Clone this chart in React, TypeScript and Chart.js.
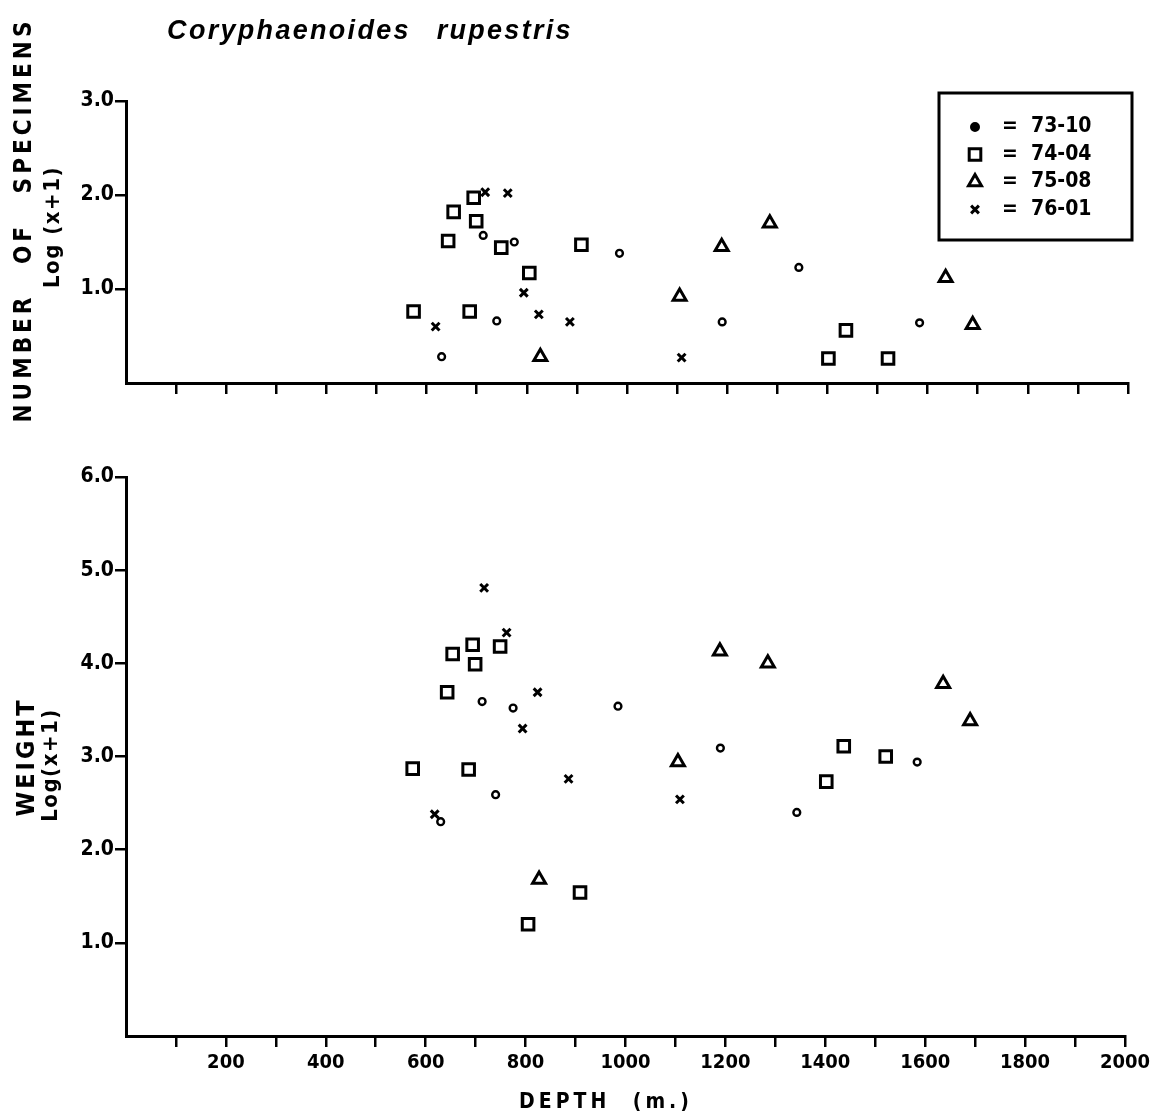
import React, { useEffect, useRef } from 'react';
import { Chart, registerables } from 'chart.js';
import { drawPoint } from 'chart.js/helpers';

Chart.register(...registerables);

// ---- data ----
const seriesNames = ['73-10', '74-04', '75-08', '76-01'];

const depth7310 = [630, 713, 740, 775, 985, 1190, 1343, 1584];
const count7310 = [0.28, 1.57, 0.66, 1.5, 1.38, 0.65, 1.23, 0.64];
const weight7310 = [2.3, 3.59, 2.59, 3.52, 3.54, 3.09, 2.4, 2.94];

const depth7404 = [574, 643, 654, 686, 694, 699, 749, 805, 909, 1402, 1437, 1521];
const count7404 = [0.76, 1.51, 1.82, 0.76, 1.97, 1.72, 1.44, 1.17, 1.47, 0.26, 0.56, 0.26];
const weight7404 = [2.87, 3.69, 4.1, 2.86, 4.2, 3.99, 4.18, 1.2, 1.54, 2.73, 3.11, 3.0];

const depth7508 = [827, 1105, 1189, 1285, 1636, 1690];
const count7508 = [0.28, 0.92, 1.45, 1.7, 1.12, 0.62];
const weight7508 = [1.68, 2.94, 4.13, 4.0, 3.78, 3.38];

const depth7601 = [618, 717, 762, 794, 824, 886, 1109];
const count7601 = [0.6, 2.03, 2.02, 0.96, 0.73, 0.65, 0.27];
const weight7601 = [2.38, 4.81, 4.33, 3.3, 3.69, 2.76, 2.54];

const depthTicks = [200, 400, 600, 800, 1000, 1200, 1400, 1600, 1800, 2000];

const FONT = '"DejaVu Sans Condensed", "DejaVu Sans", sans-serif';

const styles = [
  { pointStyle: 'circle', radius: 3.4, borderWidth: 2.4 },
  { pointStyle: 'rect', radius: 8.2, borderWidth: 3 },
  { pointStyle: 'triangle', radius: 7.5, borderWidth: 3 },
  { pointStyle: 'crossRot', radius: 5.5, borderWidth: 3 },
];

function pts(xs: number[], ys: number[]) {
  return xs.map((x, i) => ({ x, y: ys[i] }));
}

function makeDatasets(ys: number[][]) {
  const xs = [depth7310, depth7404, depth7508, depth7601];
  return seriesNames.map((name, i) => ({
    label: name,
    data: pts(xs[i], ys[i]),
    pointStyle: styles[i].pointStyle as any,
    pointRadius: styles[i].radius,
    pointBorderWidth: styles[i].borderWidth,
    pointBorderColor: '#000',
    pointBackgroundColor: '#fff',
    borderColor: '#000',
    backgroundColor: '#fff',
    showLine: false,
  }));
}

const boxLegend = {
  id: 'boxLegend',
  afterDraw(chart: any) {
    const ctx = chart.ctx;
    const area = chart.chartArea;
    const bx = area.right - 189;
    const by = area.top - 8;
    ctx.save();
    ctx.strokeStyle = '#000';
    ctx.lineWidth = 3;
    ctx.strokeRect(bx, by, 193, 147);
    ctx.font = `bold 21px ${FONT}`;
    ctx.fillStyle = '#000';
    ctx.textBaseline = 'middle';
    seriesNames.forEach((name, i) => {
      const y = by + 34 + i * 27.5;
      const st = styles[i];
      ctx.strokeStyle = '#000';
      ctx.fillStyle = i === 0 ? '#000' : '#fff';
      ctx.lineWidth = st.borderWidth;
      drawPoint(ctx, {
        pointStyle: st.pointStyle as any,
        radius: i === 0 ? 3.8 : st.radius,
        borderWidth: st.borderWidth,
        rotation: 0,
      } as any, bx + 36, y);
      ctx.fillStyle = '#000';
      ctx.textAlign = 'center';
      ctx.fillText('=', bx + 71, y);
      ctx.textAlign = 'left';
      ctx.fillText(name, bx + 92, y);
    });
    ctx.restore();
  },
};

function buildOptions(yMax: number, showXLabels: boolean, padTop: number, xHeight: number): any {
  const hideZero = (c: any) => (c.tick && c.tick.value === 0 ? 'rgba(0,0,0,0)' : '#000');
  return {
    animation: false,
    responsive: false,
    devicePixelRatio: 1,
    layout: { padding: { top: padTop, right: 26, left: 0, bottom: 0 } },
    plugins: { legend: { display: false }, tooltip: { enabled: false }, title: { display: false } },
    scales: {
      x: {
        type: 'linear',
        min: 0,
        max: 2000,
        afterFit: (s: any) => {
          s.height = xHeight;
        },
        ticks: {
          stepSize: 100,
          autoSkip: false,
          maxRotation: 0,
          minRotation: 0,
          color: '#000',
          padding: 4,
          font: { family: FONT, size: 20, weight: 'bold' },
          callback: (v: any) => {
            const n = Number(v);
            return showXLabels && depthTicks.includes(n) ? String(n) : '';
          },
        },
        grid: {
          drawOnChartArea: false,
          drawTicks: true,
          tickLength: 11,
          color: hideZero,
          lineWidth: 2.5,
        },
        border: { color: '#000', width: 3 },
      },
      y: {
        type: 'linear',
        min: 0,
        max: yMax,
        afterFit: (s: any) => {
          s.width = 126;
        },
        ticks: {
          stepSize: 1,
          color: '#000',
          padding: 1,
          font: { family: FONT, size: 21, weight: 'bold' },
          callback: (v: any) => (Number(v) === 0 ? '' : Number(v).toFixed(1)),
        },
        grid: {
          drawOnChartArea: false,
          drawTicks: true,
          tickLength: 11,
          color: hideZero,
          lineWidth: 2.5,
        },
        border: { color: '#000', width: 3 },
      },
    },
  };
}

function Label(props: { x: number; y: number; rotate?: boolean; style: any; children: any }) {
  const { x, y, rotate, style, children } = props;
  return (
    <div
      style={{
        position: 'absolute',
        left: x,
        top: y,
        transform: `translate(-50%, -50%)${rotate ? ' rotate(-90deg)' : ''}`,
        whiteSpace: 'pre',
        color: '#000',
        fontFamily: FONT,
        lineHeight: 1,
        ...style,
      }}
    >
      {children}
    </div>
  );
}

export default function App() {
  const topRef = useRef<HTMLCanvasElement | null>(null);
  const botRef = useRef<HTMLCanvasElement | null>(null);

  useEffect(() => {
    const top = new Chart(topRef.current as HTMLCanvasElement, {
      type: 'scatter',
      data: { datasets: makeDatasets([count7310, count7404, count7508, count7601]) as any },
      options: buildOptions(3, false, 101, 37),
      plugins: [boxLegend],
    });
    const bot = new Chart(botRef.current as HTMLCanvasElement, {
      type: 'scatter',
      data: { datasets: makeDatasets([weight7310, weight7404, weight7508, weight7601]) as any },
      options: buildOptions(6, true, 37, 84),
    });
    return () => {
      top.destroy();
      bot.destroy();
    };
  }, []);

  return (
    <div style={{ position: 'absolute', left: 0, top: 0, width: 1154, height: 1120, background: '#fff', overflow: 'hidden' }}>
      <canvas ref={topRef} width={1154} height={420} style={{ position: 'absolute', left: 0, top: 0 }} />
      <canvas ref={botRef} width={1154} height={680} style={{ position: 'absolute', left: 0, top: 440 }} />
      <Label x={370} y={30} style={{ fontFamily: '"Liberation Sans", Arial, sans-serif', fontStyle: 'italic', fontWeight: 'bold', fontSize: 27, letterSpacing: 2.3, wordSpacing: 16 }}>
        Coryphaenoides rupestris
      </Label>
      <Label x={23} y={220} rotate style={{ fontSize: 24, fontWeight: 'bold', letterSpacing: 4, wordSpacing: 18 }}>
        NUMBER OF SPECIMENS
      </Label>
      <Label x={52} y={227} rotate style={{ fontSize: 22, fontWeight: 'bold', letterSpacing: 1.5 }}>
        Log (x+1)
      </Label>
      <Label x={25} y={757} rotate style={{ fontSize: 25, fontWeight: 'bold', letterSpacing: 3 }}>
        WEIGHT
      </Label>
      <Label x={50} y={765} rotate style={{ fontSize: 22, fontWeight: 'bold', letterSpacing: 1.5 }}>
        Log(x+1)
      </Label>
      <Label x={606} y={1101} style={{ fontSize: 21, fontWeight: 'bold', letterSpacing: 4, wordSpacing: 12 }}>
        DEPTH (m.)
      </Label>
    </div>
  );
}
